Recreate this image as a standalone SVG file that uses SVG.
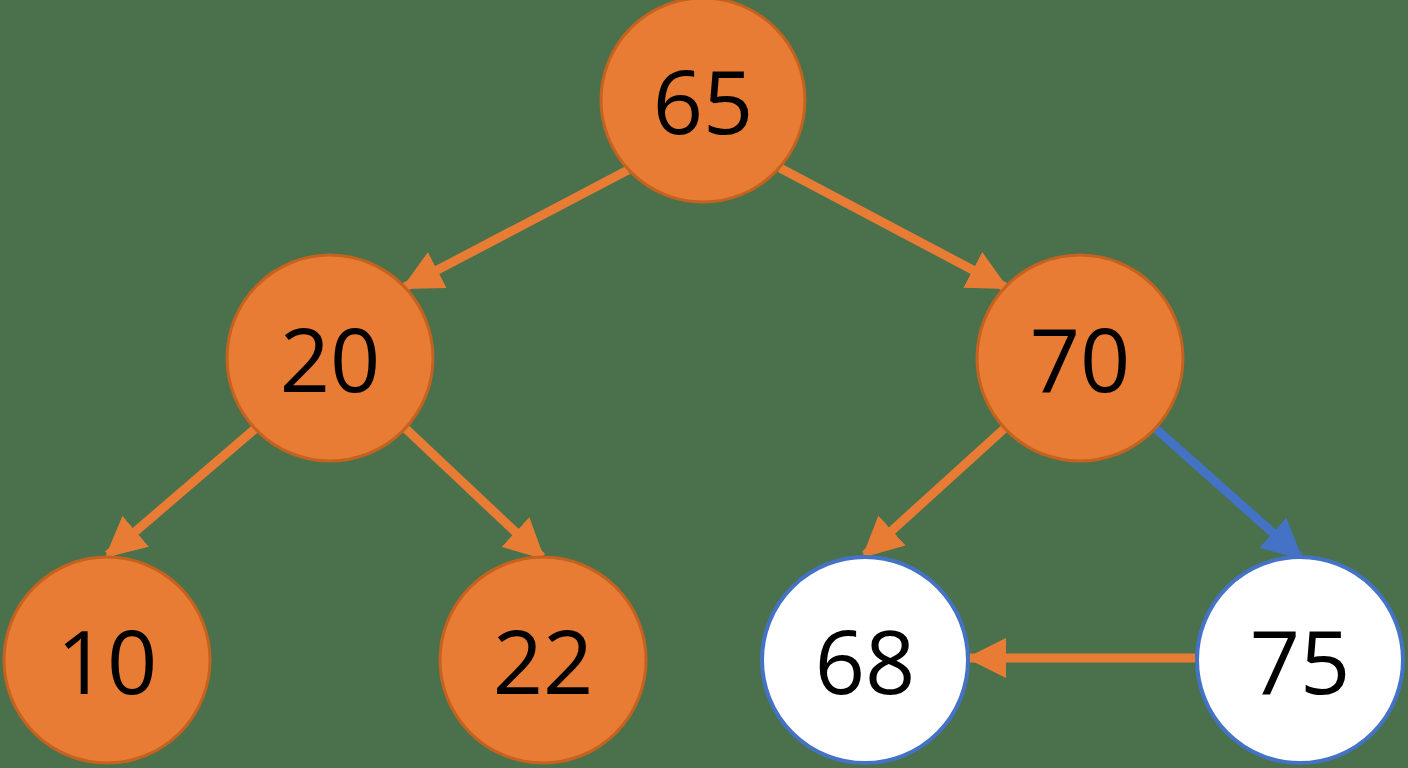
<svg xmlns="http://www.w3.org/2000/svg" width="1408" height="768" viewBox="0 0 1408 768">
<defs>
<style>
.o{fill:#e97c34;stroke:#c4621f;stroke-width:3}
.w{fill:#ffffff;stroke:#4472c4;stroke-width:4}
.t{font-family:"Open Sans","DejaVu Sans",sans-serif;font-size:88px;fill:#000;text-anchor:middle;dominant-baseline:central}
.e{stroke:#e97c34;stroke-width:9;fill:none}
.b{stroke:#4472c4;stroke-width:9;fill:none}
</style>
<marker id="ao" viewBox="0 0 10 10" refX="9" refY="5" markerWidth="4.5" markerHeight="4.5" markerUnits="strokeWidth" orient="auto"><path d="M0,0L10,5L0,10Z" fill="#e97c34"/></marker>
<marker id="ab" viewBox="0 0 10 10" refX="9" refY="5" markerWidth="4.5" markerHeight="4.5" markerUnits="strokeWidth" orient="auto"><path d="M0,0L10,5L0,10Z" fill="#4472c4"/></marker>
</defs>
<rect width="1408" height="768" fill="#4a714c"/>
<g id="connectors">
<line class="e" x1="628" y1="170" x2="405" y2="287" marker-end="url(#ao)"/>
<line class="e" x1="780" y1="168" x2="1005" y2="287" marker-end="url(#ao)"/>
<line class="e" x1="256" y1="428" x2="108" y2="555" marker-end="url(#ao)"/>
<line class="e" x1="405" y1="428" x2="542" y2="557" marker-end="url(#ao)"/>
<line class="e" x1="1005" y1="428" x2="865" y2="555" marker-end="url(#ao)"/>
<line class="b" x1="1155" y1="428" x2="1300" y2="557" marker-end="url(#ab)"/>
<line class="e" x1="1195" y1="658" x2="970" y2="658" marker-end="url(#ao)"/>
</g>
<g id="n65"><circle class="o" cx="703" cy="100" r="102"/><text class="t" x="703" y="100">65</text></g>
<g id="n20"><circle class="o" cx="330" cy="358" r="103"/><text class="t" x="330" y="358">20</text></g>
<g id="n70"><circle class="o" cx="1080" cy="358" r="103"/><text class="t" x="1080" y="358">70</text></g>
<g id="n10"><circle class="o" cx="107" cy="660" r="103"/><text class="t" x="107" y="660">10</text></g>
<g id="n22"><circle class="o" cx="543" cy="660" r="103"/><text class="t" x="543" y="660">22</text></g>
<g id="n68"><circle class="w" cx="865" cy="660" r="103"/><text class="t" x="865" y="660">68</text></g>
<g id="n75"><circle class="w" cx="1300" cy="660" r="103"/><text class="t" x="1300" y="660">75</text></g>
</svg>
